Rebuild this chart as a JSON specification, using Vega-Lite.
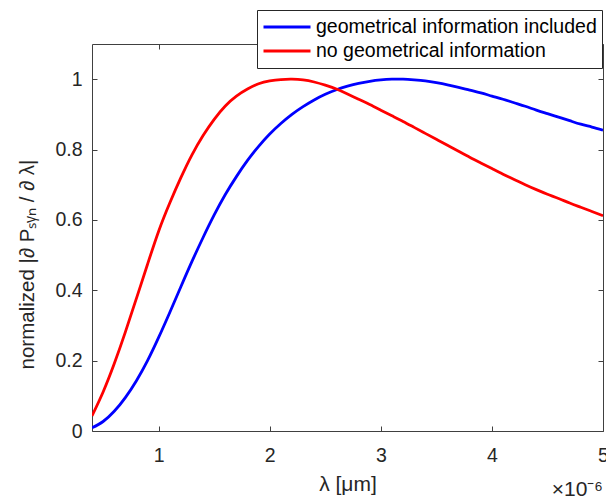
{
  "$schema": "https://vega.github.io/schema/vega-lite/v6.json",
  "width": 511,
  "height": 387,
  "autosize": {"type": "none"},
  "padding": {"left": 92, "top": 44, "right": 3, "bottom": 69},
  "background": "white",
  "title": {
    "text": "×10⁻⁶",
    "orient": "bottom",
    "anchor": "end",
    "frame": "group",
    "offset": -16,
    "font": "Liberation Sans",
    "fontSize": 21,
    "fontWeight": "normal",
    "color": "#262626"
  },
  "datasets": {
    "curves": [
      {"series": "geometrical information included", "x": 0.4, "y": 0.009},
      {"series": "geometrical information included", "x": 0.5, "y": 0.027},
      {"series": "geometrical information included", "x": 0.6, "y": 0.056},
      {"series": "geometrical information included", "x": 0.7, "y": 0.095},
      {"series": "geometrical information included", "x": 0.8, "y": 0.143},
      {"series": "geometrical information included", "x": 0.9, "y": 0.2},
      {"series": "geometrical information included", "x": 1.0, "y": 0.266},
      {"series": "geometrical information included", "x": 1.1, "y": 0.337},
      {"series": "geometrical information included", "x": 1.2, "y": 0.41},
      {"series": "geometrical information included", "x": 1.3, "y": 0.482},
      {"series": "geometrical information included", "x": 1.4, "y": 0.55},
      {"series": "geometrical information included", "x": 1.5, "y": 0.614},
      {"series": "geometrical information included", "x": 1.6, "y": 0.672},
      {"series": "geometrical information included", "x": 1.7, "y": 0.723},
      {"series": "geometrical information included", "x": 1.8, "y": 0.769},
      {"series": "geometrical information included", "x": 1.9, "y": 0.809},
      {"series": "geometrical information included", "x": 2.0, "y": 0.844},
      {"series": "geometrical information included", "x": 2.1, "y": 0.874},
      {"series": "geometrical information included", "x": 2.2, "y": 0.9},
      {"series": "geometrical information included", "x": 2.3, "y": 0.922},
      {"series": "geometrical information included", "x": 2.4, "y": 0.941},
      {"series": "geometrical information included", "x": 2.5, "y": 0.957},
      {"series": "geometrical information included", "x": 2.6, "y": 0.97},
      {"series": "geometrical information included", "x": 2.7, "y": 0.98},
      {"series": "geometrical information included", "x": 2.8, "y": 0.988},
      {"series": "geometrical information included", "x": 2.9, "y": 0.994},
      {"series": "geometrical information included", "x": 3.0, "y": 0.998},
      {"series": "geometrical information included", "x": 3.1, "y": 1.0},
      {"series": "geometrical information included", "x": 3.2, "y": 1.0},
      {"series": "geometrical information included", "x": 3.3, "y": 0.998},
      {"series": "geometrical information included", "x": 3.4, "y": 0.995},
      {"series": "geometrical information included", "x": 3.5, "y": 0.99},
      {"series": "geometrical information included", "x": 3.6, "y": 0.984},
      {"series": "geometrical information included", "x": 3.7, "y": 0.977},
      {"series": "geometrical information included", "x": 3.8, "y": 0.969},
      {"series": "geometrical information included", "x": 3.9, "y": 0.961},
      {"series": "geometrical information included", "x": 4.0, "y": 0.952},
      {"series": "geometrical information included", "x": 4.1, "y": 0.943},
      {"series": "geometrical information included", "x": 4.2, "y": 0.933},
      {"series": "geometrical information included", "x": 4.3, "y": 0.923},
      {"series": "geometrical information included", "x": 4.4, "y": 0.912},
      {"series": "geometrical information included", "x": 4.5, "y": 0.902},
      {"series": "geometrical information included", "x": 4.6, "y": 0.892},
      {"series": "geometrical information included", "x": 4.7, "y": 0.882},
      {"series": "geometrical information included", "x": 4.8, "y": 0.872},
      {"series": "geometrical information included", "x": 4.9, "y": 0.864},
      {"series": "geometrical information included", "x": 5.0, "y": 0.855},
      {"series": "no geometrical information", "x": 0.4, "y": 0.043},
      {"series": "no geometrical information", "x": 0.5, "y": 0.111},
      {"series": "no geometrical information", "x": 0.6, "y": 0.191},
      {"series": "no geometrical information", "x": 0.7, "y": 0.281},
      {"series": "no geometrical information", "x": 0.8, "y": 0.377},
      {"series": "no geometrical information", "x": 0.9, "y": 0.474},
      {"series": "no geometrical information", "x": 1.0, "y": 0.568},
      {"series": "no geometrical information", "x": 1.1, "y": 0.648},
      {"series": "no geometrical information", "x": 1.2, "y": 0.72},
      {"series": "no geometrical information", "x": 1.3, "y": 0.785},
      {"series": "no geometrical information", "x": 1.4, "y": 0.84},
      {"series": "no geometrical information", "x": 1.5, "y": 0.886},
      {"series": "no geometrical information", "x": 1.6, "y": 0.924},
      {"series": "no geometrical information", "x": 1.7, "y": 0.952},
      {"series": "no geometrical information", "x": 1.8, "y": 0.972},
      {"series": "no geometrical information", "x": 1.9, "y": 0.987},
      {"series": "no geometrical information", "x": 2.0, "y": 0.995},
      {"series": "no geometrical information", "x": 2.1, "y": 0.999},
      {"series": "no geometrical information", "x": 2.2, "y": 1.0},
      {"series": "no geometrical information", "x": 2.3, "y": 0.998},
      {"series": "no geometrical information", "x": 2.4, "y": 0.992},
      {"series": "no geometrical information", "x": 2.5, "y": 0.983},
      {"series": "no geometrical information", "x": 2.6, "y": 0.972},
      {"series": "no geometrical information", "x": 2.7, "y": 0.958},
      {"series": "no geometrical information", "x": 2.8, "y": 0.943},
      {"series": "no geometrical information", "x": 2.9, "y": 0.928},
      {"series": "no geometrical information", "x": 3.0, "y": 0.912},
      {"series": "no geometrical information", "x": 3.1, "y": 0.896},
      {"series": "no geometrical information", "x": 3.2, "y": 0.88},
      {"series": "no geometrical information", "x": 3.3, "y": 0.863},
      {"series": "no geometrical information", "x": 3.4, "y": 0.846},
      {"series": "no geometrical information", "x": 3.5, "y": 0.829},
      {"series": "no geometrical information", "x": 3.6, "y": 0.812},
      {"series": "no geometrical information", "x": 3.7, "y": 0.795},
      {"series": "no geometrical information", "x": 3.8, "y": 0.778},
      {"series": "no geometrical information", "x": 3.9, "y": 0.762},
      {"series": "no geometrical information", "x": 4.0, "y": 0.746},
      {"series": "no geometrical information", "x": 4.1, "y": 0.73},
      {"series": "no geometrical information", "x": 4.2, "y": 0.715},
      {"series": "no geometrical information", "x": 4.3, "y": 0.7},
      {"series": "no geometrical information", "x": 4.4, "y": 0.686},
      {"series": "no geometrical information", "x": 4.5, "y": 0.673},
      {"series": "no geometrical information", "x": 4.6, "y": 0.661},
      {"series": "no geometrical information", "x": 4.7, "y": 0.648},
      {"series": "no geometrical information", "x": 4.8, "y": 0.636},
      {"series": "no geometrical information", "x": 4.9, "y": 0.624},
      {"series": "no geometrical information", "x": 5.0, "y": 0.612}
    ]
  },
  "data": {"name": "curves"},
  "layer": [
    {
      "mark": {"type": "line", "strokeWidth": 2.8, "interpolate": "natural", "clip": true},
      "encoding": {
        "x": {
          "field": "x", "type": "quantitative",
          "scale": {"domain": [0.4, 5], "nice": false, "zero": false},
          "axis": {
            "orient": "bottom",
            "values": [1, 2, 3, 4, 5],
            "format": "d",
            "title": "λ [μm]",
            "titleFontSize": 21,
            "tickSize": -5,
            "labelPadding": 20,
            "titlePadding": 9
          }
        },
        "y": {
          "field": "y", "type": "quantitative",
          "scale": {"domain": [0, 1.1], "nice": false, "zero": false},
          "axis": {
            "orient": "left",
            "values": [0, 0.2, 0.4, 0.6, 0.8, 1],
            "format": "~g",
            "title": "normalized |∂ Pₛᵧₙ / ∂ λ|",
            "titleFontSize": 20.5,
            "titleY": 220,
            "titleAlign": "center",
            "tickSize": -5,
            "labelPadding": 15,
            "titlePadding": 17
          }
        },
        "color": {
          "field": "series", "type": "nominal",
          "scale": {
            "domain": ["geometrical information included", "no geometrical information"],
            "range": ["#0000ff", "#ff0000"]
          },
          "legend": {
            "title": null,
            "orient": "none",
            "legendX": 165,
            "legendY": -34,
            "symbolType": "stroke",
            "symbolSize": 2209,
            "symbolStrokeWidth": 3,
            "clipHeight": 24,
            "rowPadding": 0,
            "labelOffset": 4,
            "padding": 5,
            "labelFont": "Liberation Sans",
            "labelFontSize": 19.5,
            "labelColor": "#000000",
            "labelLimit": 400,
            "strokeColor": "#262626",
            "fillColor": "white"
          }
        }
      }
    },
    {
      "mark": {"type": "point", "opacity": 0},
      "encoding": {
        "x": {
          "field": "x", "type": "quantitative",
          "axis": {
            "orient": "top",
            "values": [1, 2, 3, 4, 5],
            "labels": false,
            "title": null,
            "tickSize": -5
          }
        },
        "y": {
          "field": "y", "type": "quantitative",
          "axis": {
            "orient": "right",
            "values": [0, 0.2, 0.4, 0.6, 0.8, 1],
            "labels": false,
            "title": null,
            "tickSize": -5
          }
        }
      }
    }
  ],
  "resolve": {"axis": {"x": "independent", "y": "independent"}},
  "config": {
    "view": {"stroke": null},
    "axis": {
      "grid": false,
      "domainColor": "#404040",
      "domainWidth": 1,
      "tickColor": "#404040",
      "tickWidth": 1,
      "labelFont": "Liberation Sans",
      "labelFontSize": 19.5,
      "labelColor": "#262626",
      "labelFlush": false,
      "labelOverlap": false,
      "titleFont": "Liberation Sans",
      "titleFontSize": 20,
      "titleFontWeight": "normal",
      "titleColor": "#262626"
    }
  }
}
